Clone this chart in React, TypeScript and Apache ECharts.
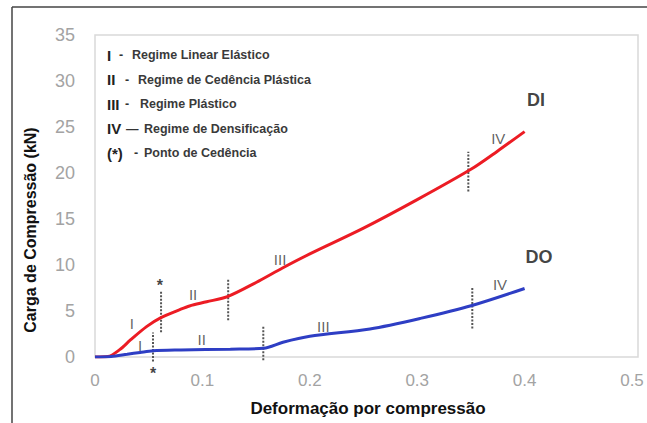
import React, { useEffect, useRef } from "react";
import * as echarts from "echarts";

// ---- data ----
const xTicks = [0, 0.1, 0.2, 0.3, 0.4, 0.5];
const yTicks = [0, 5, 10, 15, 20, 25, 30, 35];

const diCurve: [number, number][] = [
  [0, 0], [0.012, 0.05], [0.023, 0.8], [0.033, 1.85], [0.048, 3.3], [0.061, 4.25],
  [0.079, 5.15], [0.088, 5.55], [0.104, 6.0], [0.124, 6.6], [0.15, 8.1],
  [0.175, 9.7], [0.2, 11.2], [0.25, 14.0], [0.3, 17.1], [0.35, 20.4],
  [0.375, 22.4], [0.4, 24.5],
];

const doCurve: [number, number][] = [
  [0, 0], [0.015, 0.05], [0.03, 0.3], [0.042, 0.5], [0.054, 0.68], [0.08, 0.76],
  [0.126, 0.85], [0.157, 0.95], [0.175, 1.6], [0.2, 2.25], [0.256, 3.05],
  [0.303, 4.2], [0.351, 5.6], [0.4, 7.45],
];

// dotted regime boundaries: x, yFrom, yTo
const boundaries: [number, number, number][] = [
  [0.0615, 2.7, 7.1],
  [0.124, 4.0, 8.4],
  [0.3476, 18.0, 22.3],
  [0.054, -0.5, 2.65],
  [0.1567, -0.35, 3.3],
  [0.3513, 3.1, 7.5],
];

// regime labels on curves
const regimeLabels: { x: number; y: number; t: string }[] = [
  { x: 0.0342, y: 3.66, t: "I" },
  { x: 0.0913, y: 6.74, t: "II" },
  { x: 0.1723, y: 10.65, t: "III" },
  { x: 0.3755, y: 23.77, t: "IV" },
  { x: 0.0419, y: 1.3, t: "I" },
  { x: 0.0993, y: 1.85, t: "II" },
  { x: 0.2126, y: 3.29, t: "III" },
  { x: 0.3771, y: 7.83, t: "IV" },
];

const yieldPoints: [number, number][] = [
  [0.0605, 7.75],
  [0.054, -1.75],
];

const seriesNames = [
  { x: 0.4106, y: 27.9, t: "DI" },
  { x: 0.4134, y: 10.87, t: "DO" },
];

const legendNumerals = ["I", "II", "III", "IV", "(*)"];
const legendDashes = ["-", "-", "-", "—", "-"];
const legendTexts = [
  "Regime Linear Elástico",
  "Regime de Cedência Plástica",
  "Regime Plástico",
  "Regime de Densificação",
  "Ponto de Cedência",
];

const FONT = "Liberation Sans, Arial, sans-serif";

export default function App() {
  const ref = useRef<HTMLDivElement>(null);

  useEffect(() => {
    if (!ref.current) return;
    const chart = echarts.init(ref.current, undefined, { renderer: "svg" });

    const gridLeft = 95;
    const gridTop = 35;
    const gridRight = 647 - 632;
    const gridBottom = 423 - 357;

    const boundarySeries = boundaries.map((b) => ({
      type: "line",
      data: [[b[0], b[1]], [b[0], b[2]]],
      symbol: "none",
      clip: false,
      silent: true,
      z: 3,
      lineStyle: { color: "#555", width: 2, type: [2, 1.5] },
    }));

    const labelSeries = (data: any[], label: any) => ({
      type: "scatter",
      symbolSize: 0,
      clip: false,
      silent: true,
      z: 5,
      itemStyle: { color: label.color },
      data,
      label: { show: true, position: "inside", fontFamily: FONT, ...label },
    });

    // legend layout (pixels)
    const legendY0 = 55;
    const legendDy = 24.5;
    const dashX = [119, 125, 125, 126, 134];
    const textX = [132, 138, 140, 144, 144];

    const legendGraphics: any[] = [];
    legendNumerals.forEach((n, i) => {
      const y = legendY0 + i * legendDy;
      legendGraphics.push({
        type: "text",
        x: 107,
        y,
        style: { text: n, font: `bold 15px ${FONT}`, fill: "#222", verticalAlign: "middle" },
      });
      legendGraphics.push({
        type: "text",
        x: dashX[i],
        y,
        style: { text: legendDashes[i], font: `bold 12.5px ${FONT}`, fill: "#333", verticalAlign: "middle" },
      });
      legendGraphics.push({
        type: "text",
        x: textX[i],
        y,
        style: { text: legendTexts[i], font: `bold 12.5px ${FONT}`, fill: "#3a3a3a", verticalAlign: "middle" },
      });
    });

    const option: any = {
      animation: false,
      textStyle: { fontFamily: FONT },
      grid: { left: gridLeft, top: gridTop, right: gridRight, bottom: gridBottom },
      xAxis: {
        type: "value",
        min: 0,
        max: 0.5,
        interval: 0.1,
        axisLine: { show: false },
        axisTick: { show: false },
        splitLine: { show: false },
        axisLabel: {
          color: "#a3a3a3",
          fontSize: 17,
          margin: 15,
          fontFamily: FONT,
          formatter: (v: number) => {
            const r = Math.round(v * 10) / 10;
            return xTicks.includes(r) ? String(r) : "";
          },
        },
      },
      yAxis: {
        type: "value",
        min: 0,
        max: 35,
        interval: 5,
        axisLine: { show: false },
        axisTick: { show: false },
        splitLine: { show: false },
        axisLabel: {
          color: "#a3a3a3",
          fontSize: 18,
          margin: 20,
          fontFamily: FONT,
          formatter: (v: number) => (yTicks.includes(v) ? String(v) : ""),
        },
      },
      graphic: [
        {
          type: "rect",
          shape: { x: 95, y: 35, width: 543, height: 322 },
          style: { fill: "none", stroke: "#d9d9d9", lineWidth: 1.5 },
          z: 0,
        },
        {
          type: "line",
          shape: { x1: 12, y1: 7, x2: 12, y2: 423 },
          style: { stroke: "#444", lineWidth: 1.5 },
        },
        {
          type: "line",
          shape: { x1: 12, y1: 7, x2: 647, y2: 7 },
          style: { stroke: "#444", lineWidth: 1.5 },
        },
        {
          type: "text",
          x: 30,
          y: 230,
          rotation: Math.PI / 2,
          style: {
            text: "Carga de Compressão (kN)",
            font: `bold 16px ${FONT}`,
            fill: "#111",
            align: "center",
            verticalAlign: "middle",
          },
        },
        {
          type: "text",
          x: 368,
          y: 408,
          style: {
            text: "Deformação por compressão",
            font: `bold 17px ${FONT}`,
            fill: "#111",
            align: "center",
            verticalAlign: "middle",
          },
        },
        ...legendGraphics,
      ],
      series: [
        {
          type: "line",
          name: "DI",
          data: diCurve,
          smooth: 0.3,
          symbol: "none",
          z: 4,
          lineStyle: { color: "#ec1c24", width: 3 },
        },
        {
          type: "line",
          name: "DO",
          data: doCurve,
          smooth: 0.3,
          symbol: "none",
          z: 4,
          lineStyle: { color: "#2e3ec4", width: 3 },
        },
        ...boundarySeries,
        labelSeries(
          regimeLabels.map((r) => ({ value: [r.x, r.y], name: r.t })),
          { formatter: (p: any) => p.name, fontSize: 15, color: "#3a3a3a" }
        ),
        labelSeries(
          yieldPoints.map((p) => ({ value: p, name: "*" })),
          { formatter: "*", fontSize: 16, fontWeight: "bold", color: "#111" }
        ),
        labelSeries(
          seriesNames.map((s) => ({ value: [s.x, s.y], name: s.t })),
          { formatter: (p: any) => p.name, fontSize: 18, fontWeight: "bold", color: "#111" }
        ),
      ],
    };

    chart.setOption(option);
    return () => chart.dispose();
  }, []);

  return (
    <div
      ref={ref}
      style={{ position: "absolute", left: 0, top: 0, width: 647, height: 423, background: "#fff" }}
    />
  );
}
